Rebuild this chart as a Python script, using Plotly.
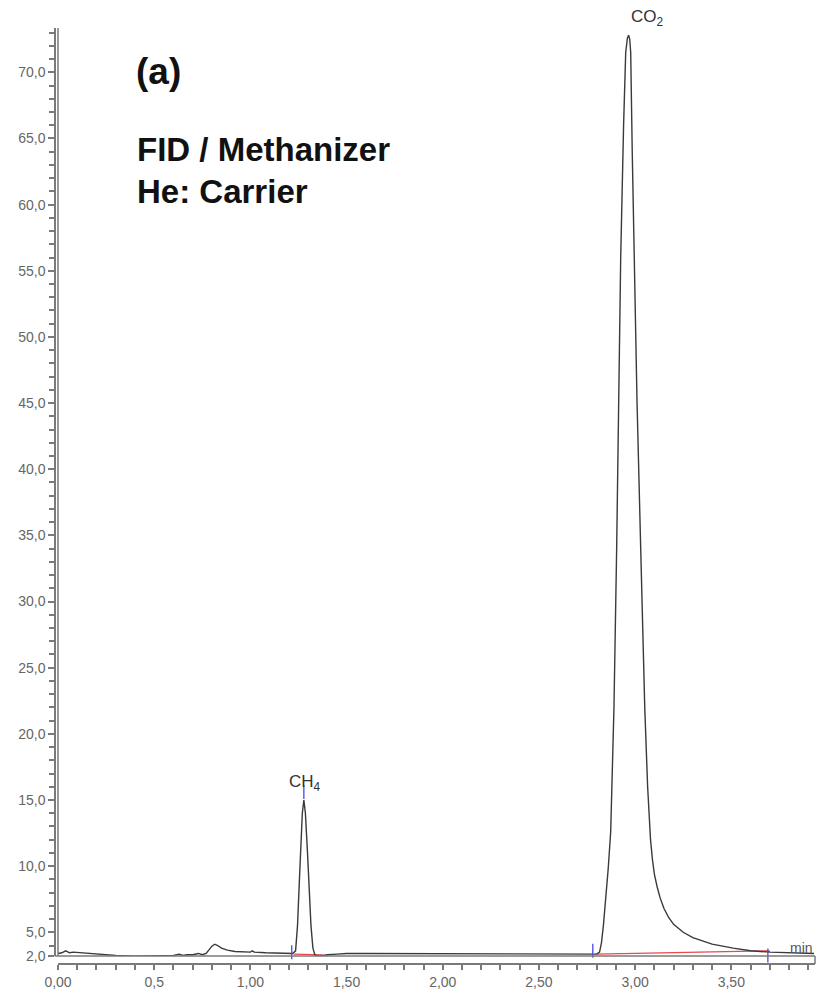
import plotly.graph_objects as go

# ---- data (time in min, signal) ----
early_t = [0.0, 0.02, 0.04, 0.05, 0.06, 0.08, 0.12, 0.15, 0.2, 0.3, 0.4, 0.5, 0.6, 0.63, 0.65,
           0.67, 0.7, 0.73, 0.75, 0.77, 0.78, 0.79, 0.80, 0.815, 0.83, 0.85, 0.88, 0.92, 0.96,
           1.0, 1.01, 1.02, 1.08, 1.15, 1.2, 1.22]
early_v = [3.4, 3.45, 3.6, 3.5, 3.45, 3.5, 3.45, 3.45, 3.35, 3.25, 3.2, 3.2, 3.25, 3.35, 3.25,
           3.3, 3.3, 3.4, 3.3, 3.4, 3.6, 3.75, 3.95, 4.1, 4.0, 3.8, 3.65, 3.55, 3.5,
           3.5, 3.6, 3.5, 3.45, 3.45, 3.4, 3.4]

ch4_t = [1.235, 1.245, 1.255, 1.263, 1.27, 1.278, 1.286, 1.297, 1.305, 1.315, 1.325, 1.335,
         1.35, 1.37, 1.40, 1.45, 1.5, 1.6, 1.8, 2.0, 2.2, 2.4, 2.6]
ch4_v = [3.6, 5.5, 9.0, 12.0, 14.0, 15.0, 14.0, 11.0, 8.5, 5.5, 3.8, 3.3,
         3.2, 3.25, 3.3, 3.35, 3.4, 3.4, 3.4, 3.4, 3.38, 3.35, 3.35]

co2_t = [2.70, 2.78, 2.80, 2.815, 2.825, 2.835, 2.848, 2.86, 2.873, 2.89, 2.904, 2.915, 2.925,
         2.94, 2.951, 2.96, 2.966, 2.972, 2.977, 2.985, 2.995, 3.01, 3.029, 3.05, 3.065, 3.08,
         3.09, 3.10, 3.115, 3.13, 3.15, 3.175, 3.20, 3.25, 3.30, 3.40, 3.51, 3.60, 3.70, 3.80,
         3.93]
co2_v = [3.35, 3.35, 3.35, 3.5, 4.2, 5.5, 7.6, 9.8, 12.6, 22.0, 34.0, 45.0, 56.0,
         66.0, 71.5, 72.6, 72.8, 72.5, 71.5, 64.0, 56.0, 45.0, 34.0, 22.0, 16.0, 12.0,
         10.5, 9.4, 8.4, 7.6, 6.8, 6.1, 5.6, 5.0, 4.6, 4.1, 3.8, 3.6, 3.5, 3.45,
         3.4]

# integration baselines (red) and peak delimiters (blue)
ch4_base_t = [1.225, 1.375]
ch4_base_v = [3.35, 3.3]
co2_base_t = [2.80, 3.70]
co2_base_v = [3.35, 3.6]
delim_t = [1.215, 1.278, 2.78, 3.69]
delim_v = [3.5, 15.6, 3.6, 3.25]

peak_names = ["CH<sub>4</sub>", "CO<sub>2</sub>"]
peak_t = [1.283, 3.065]
peak_v = [15.0, 72.8]

x_tick_vals = [0.0, 0.5, 1.0, 1.5, 2.0, 2.5, 3.0, 3.5]
x_tick_text = ["0,00", "0,5", "1,00", "1,50", "2,00", "2,50", "3,00", "3,50"]
y_min, y_max = 3.2, 73.35
y_tick_vals = [y_min, 5, 10, 15, 20, 25, 30, 35, 40, 45, 50, 55, 60, 65, 70]
y_tick_text = ["2,0", "5,0", "10,0", "15,0", "20,0", "25,0", "30,0", "35,0", "40,0",
               "45,0", "50,0", "55,0", "60,0", "65,0", "70,0"]

# ---- layout geometry (pixels) ----
W, H = 827, 1002
L, R, T, B = 55, 12, 28, 26
pw, ph = W - L - R, H - T - B
x_dom0 = 3 / pw
y_dom0 = 8 / ph

trace_t = early_t + ch4_t + co2_t
trace_v = early_v + ch4_v + co2_v

fig = go.Figure()
fig.add_trace(go.Scatter(x=ch4_base_t, y=ch4_base_v, mode="lines",
                         line=dict(color="#e8484e", width=1.3), hoverinfo="skip"))
fig.add_trace(go.Scatter(x=co2_base_t, y=co2_base_v, mode="lines",
                         line=dict(color="#e8484e", width=1.3), hoverinfo="skip"))
fig.add_trace(go.Scatter(x=trace_t, y=trace_v, mode="lines",
                         line=dict(color="#3a3a3a", width=1.4)))
fig.add_trace(go.Scatter(x=delim_t, y=delim_v, mode="markers",
                         marker=dict(symbol="line-ns", size=10,
                                     line=dict(color="#4a4adf", width=1.3)),
                         cliponaxis=False, hoverinfo="skip"))

axis_col = "#7a7a7a"
tick_font = dict(family="Liberation Sans, Arial, sans-serif", size=14, color="#666666")

fig.update_layout(
    width=W, height=H,
    margin=dict(l=L, r=R, t=T, b=B),
    paper_bgcolor="white", plot_bgcolor="white",
    showlegend=False,
    xaxis=dict(domain=[x_dom0, 1], range=[0, 3.935], anchor="free", position=0,
               showgrid=False, zeroline=False, showline=True, linecolor=axis_col, linewidth=1.5,
               tickvals=x_tick_vals, ticktext=x_tick_text, ticks="outside", ticklen=5,
               tickcolor=axis_col, tickwidth=1.5, tickfont=tick_font,
               minor=dict(dtick=0.1, tick0=0, ticks="outside", ticklen=5,
                          tickcolor=axis_col, tickwidth=1.5)),
    yaxis=dict(domain=[y_dom0, 1], range=[y_min, y_max], anchor="free", position=0,
               showgrid=False, zeroline=False, showline=True, linecolor=axis_col, linewidth=1.5,
               tickvals=y_tick_vals, ticktext=y_tick_text, ticks="outside", ticklen=6,
               tickcolor=axis_col, tickwidth=1.5, tickfont=tick_font,
               minor=dict(dtick=1, tick0=0, ticks="outside", ticklen=5,
                          tickcolor=axis_col, tickwidth=1.5)),
)

# second (inner) frame lines of the double axes and the closing edge at the right
fig.add_shape(type="line", xref="paper", yref="paper", x0=x_dom0, x1=x_dom0, y0=y_dom0, y1=1,
              line=dict(color=axis_col, width=1.5))
fig.add_shape(type="line", xref="paper", yref="paper", x0=0, x1=1, y0=y_dom0, y1=y_dom0,
              line=dict(color=axis_col, width=1.5))
fig.add_shape(type="line", xref="paper", yref="paper", x0=1, x1=1, y0=0, y1=y_dom0,
              line=dict(color=axis_col, width=1.5))

# peak labels
for name, t, v in zip(peak_names, peak_t, peak_v):
    fig.add_annotation(x=t, y=v, text=name, showarrow=False, yanchor="bottom", yshift=4,
                       font=dict(family="Liberation Sans, Arial, sans-serif", size=17,
                                 color="#333333"))

# unit label
fig.add_annotation(x=1, y=y_dom0, xref="paper", yref="paper", text="min", showarrow=False,
                   xanchor="right", yanchor="bottom", xshift=0, yshift=-2,
                   font=dict(family="Liberation Sans, Arial, sans-serif", size=14, color="#555555"))


def px_x(px):
    return (px - L) / pw


def px_y(py):
    return (H - B - py) / ph


txt_font = "Liberation Sans, Arial, sans-serif"
fig.add_annotation(x=px_x(134), y=px_y(72), xref="paper", yref="paper", text="<b>(a)</b>",
                   showarrow=False, xanchor="left", yanchor="middle",
                   font=dict(family=txt_font, size=37, color="#111111"))
fig.add_annotation(x=px_x(135), y=px_y(151), xref="paper", yref="paper",
                   text="<b>FID / Methanizer</b>", showarrow=False, xanchor="left",
                   yanchor="middle", font=dict(family=txt_font, size=33, color="#111111"))
fig.add_annotation(x=px_x(135), y=px_y(194), xref="paper", yref="paper",
                   text="<b>He: Carrier</b>", showarrow=False, xanchor="left",
                   yanchor="middle", font=dict(family=txt_font, size=33, color="#111111"))

fig.write_html("out.html")
